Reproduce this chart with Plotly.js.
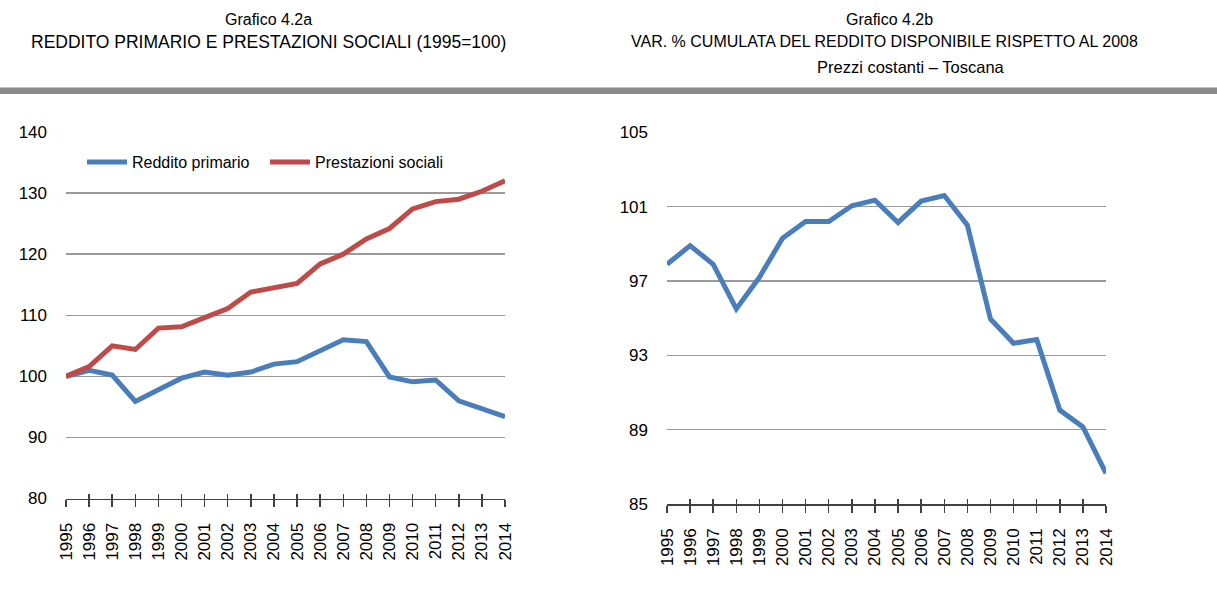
<!DOCTYPE html>
<html>
<head>
<meta charset="utf-8">
<script src="https://cdn.plot.ly/plotly-3.0.1.min.js"></script>
<style>
  html, body { margin: 0; padding: 0; background: #ffffff; }
  #chart { width: 1217px; height: 596px; }
</style>
</head>
<body>
<div id="chart"></div>
<script>
// ---- Data ----
const years = [1995, 1996, 1997, 1998, 1999, 2000, 2001, 2002, 2003, 2004,
               2005, 2006, 2007, 2008, 2009, 2010, 2011, 2012, 2013, 2014];
const yearLabels = years.map(String);

const redditoPrimario = [100.0, 101.0, 100.2, 95.9, 97.8, 99.7, 100.7, 100.2, 100.7, 102.0,
                         102.4, 104.2, 106.0, 105.7, 99.9, 99.1, 99.4, 96.0, 94.8, 93.4];
const prestazioniSociali = [100.0, 101.6, 105.0, 104.4, 107.9, 108.1, 109.6, 111.1, 113.8, 114.5,
                            115.2, 118.4, 120.0, 122.5, 124.2, 127.4, 128.6, 129.0, 130.3, 132.0];
const redditoDisponibile = [97.9, 98.9, 97.9, 95.5, 97.2, 99.3, 100.2, 100.2, 101.05, 101.35,
                            100.15, 101.3, 101.6, 100.0, 94.95, 93.65, 93.85, 90.05, 89.15, 86.65];

const leftTicks = [80, 90, 100, 110, 120, 130, 140];
const rightTicks = [85, 89, 93, 97, 101, 105];

const seriesNames = ["Reddito primario", "Prestazioni sociali"];
const titleA = ["Grafico 4.2a", "REDDITO PRIMARIO E PRESTAZIONI SOCIALI (1995=100)"];
const titleB = ["Grafico 4.2b", "VAR. % CUMULATA DEL REDDITO DISPONIBILE RISPETTO AL 2008", "Prezzi costanti \u2013 Toscana"];

// ---- Styles ----
const BLUE = "#4a7ebb";
const RED = "#be4b48";
const GRID = "#9a9a9a";
const AXIS = "#404040";
const FONT = "Liberation Sans, Arial, sans-serif";
const W = 1217, H = 596;
const px = v => v / W;
const py = v => (H - v) / H;

const traces = [
  { x: years, y: redditoPrimario, name: seriesNames[0], type: "scatter", mode: "lines",
    line: { color: BLUE, width: 5 }, xaxis: "x", yaxis: "y", legend: "legend", hoverinfo: "x+y" },
  { x: years, y: prestazioniSociali, name: seriesNames[1], type: "scatter", mode: "lines",
    line: { color: RED, width: 5 }, xaxis: "x", yaxis: "y", legend: "legend2", hoverinfo: "x+y" },
  { x: years, y: redditoDisponibile, name: "Reddito disponibile", type: "scatter", mode: "lines",
    line: { color: BLUE, width: 5 }, xaxis: "x2", yaxis: "y2", showlegend: false, hoverinfo: "x+y" },
  // invisible helpers so the overlay axes (inner tick marks) get drawn
  { x: years, y: redditoPrimario, type: "scatter", mode: "lines", line: { width: 0 }, opacity: 0,
    xaxis: "x3", yaxis: "y", showlegend: false, hoverinfo: "skip" },
  { x: years, y: redditoDisponibile, type: "scatter", mode: "lines", line: { width: 0 }, opacity: 0,
    xaxis: "x4", yaxis: "y2", showlegend: false, hoverinfo: "skip" }
];

function xAxisMain(domain, anchor) {
  return {
    domain: domain, anchor: anchor, range: [years[0], years[years.length - 1]],
    tickmode: "array", tickvals: years, ticktext: yearLabels,
    tickangle: -90, tickfont: { family: FONT, size: 17, color: "#000" },
    ticks: "outside", ticklen: 7, tickwidth: 1.5, tickcolor: AXIS,
    ticklabelstandoff: 9,
    showline: true, linecolor: AXIS, linewidth: 1.5,
    showgrid: false, zeroline: false, fixedrange: true
  };
}
function xAxisOverlay(over, anchor) {
  return {
    overlaying: over, anchor: anchor, range: [years[0], years[years.length - 1]],
    tickmode: "array", tickvals: years, showticklabels: false,
    ticks: "inside", ticklen: 5, tickwidth: 1.5, tickcolor: AXIS,
    showline: false, showgrid: false, zeroline: false, fixedrange: true
  };
}
function yAxis(domain, anchor, range, ticks) {
  return {
    domain: domain, anchor: anchor, range: range,
    tickmode: "array", tickvals: ticks, ticktext: ticks.map(String),
    tickfont: { family: FONT, size: 17, color: "#000" },
    ticks: "", ticklabelstandoff: 18,
    showgrid: true, gridcolor: GRID, gridwidth: 1.5,
    showline: false, zeroline: false, fixedrange: true
  };
}

const tf = s => ({ family: FONT, size: s, color: "#000" });
const annotations = [
  { text: titleA[0], x: px(268), y: py(20), xref: "paper", yref: "paper", xanchor: "center", yanchor: "middle", showarrow: false, font: tf(16) },
  { text: titleA[1], x: px(268.5), y: py(42), xref: "paper", yref: "paper", xanchor: "center", yanchor: "middle", showarrow: false, font: tf(17.5) },
  { text: titleB[0], x: px(889), y: py(20), xref: "paper", yref: "paper", xanchor: "center", yanchor: "middle", showarrow: false, font: tf(16) },
  { text: titleB[1], x: px(884), y: py(42), xref: "paper", yref: "paper", xanchor: "center", yanchor: "middle", showarrow: false, font: tf(16) },
  { text: titleB[2], x: px(911), y: py(67), xref: "paper", yref: "paper", xanchor: "center", yanchor: "middle", showarrow: false, font: tf(16.5) }
];

const legendBase = {
  orientation: "h", y: py(162), xanchor: "left", yanchor: "middle",
  font: { family: FONT, size: 16, color: "#000" },
  bgcolor: "rgba(0,0,0,0)", itemwidth: 40
};

const layout = {
  width: W, height: H,
  margin: { l: 0, r: 0, t: 0, b: 0 },
  paper_bgcolor: "#ffffff", plot_bgcolor: "rgba(0,0,0,0)",
  showlegend: true,
  legend: Object.assign({}, legendBase, { x: px(82) }),
  legend2: Object.assign({}, legendBase, { x: px(265) }),
  xaxis: xAxisMain([px(66), px(505)], "y"),
  xaxis3: xAxisOverlay("x", "y"),
  yaxis: yAxis([py(498.5), py(132)], "x", [80, 140], leftTicks),
  xaxis2: xAxisMain([px(667), px(1106)], "y2"),
  xaxis4: xAxisOverlay("x2", "y2"),
  yaxis2: yAxis([py(504), py(132.3)], "x2", [85, 105], rightTicks),
  shapes: [
    { type: "rect", xref: "paper", yref: "paper", x0: 0, x1: 1, y0: py(94), y1: py(87.5),
      fillcolor: "#8a8a8a", line: { width: 0 }, layer: "below" }
  ],
  annotations: annotations
};

Plotly.newPlot("chart", traces, layout, { staticPlot: true, displayModeBar: false });
</script>
</body>
</html>
